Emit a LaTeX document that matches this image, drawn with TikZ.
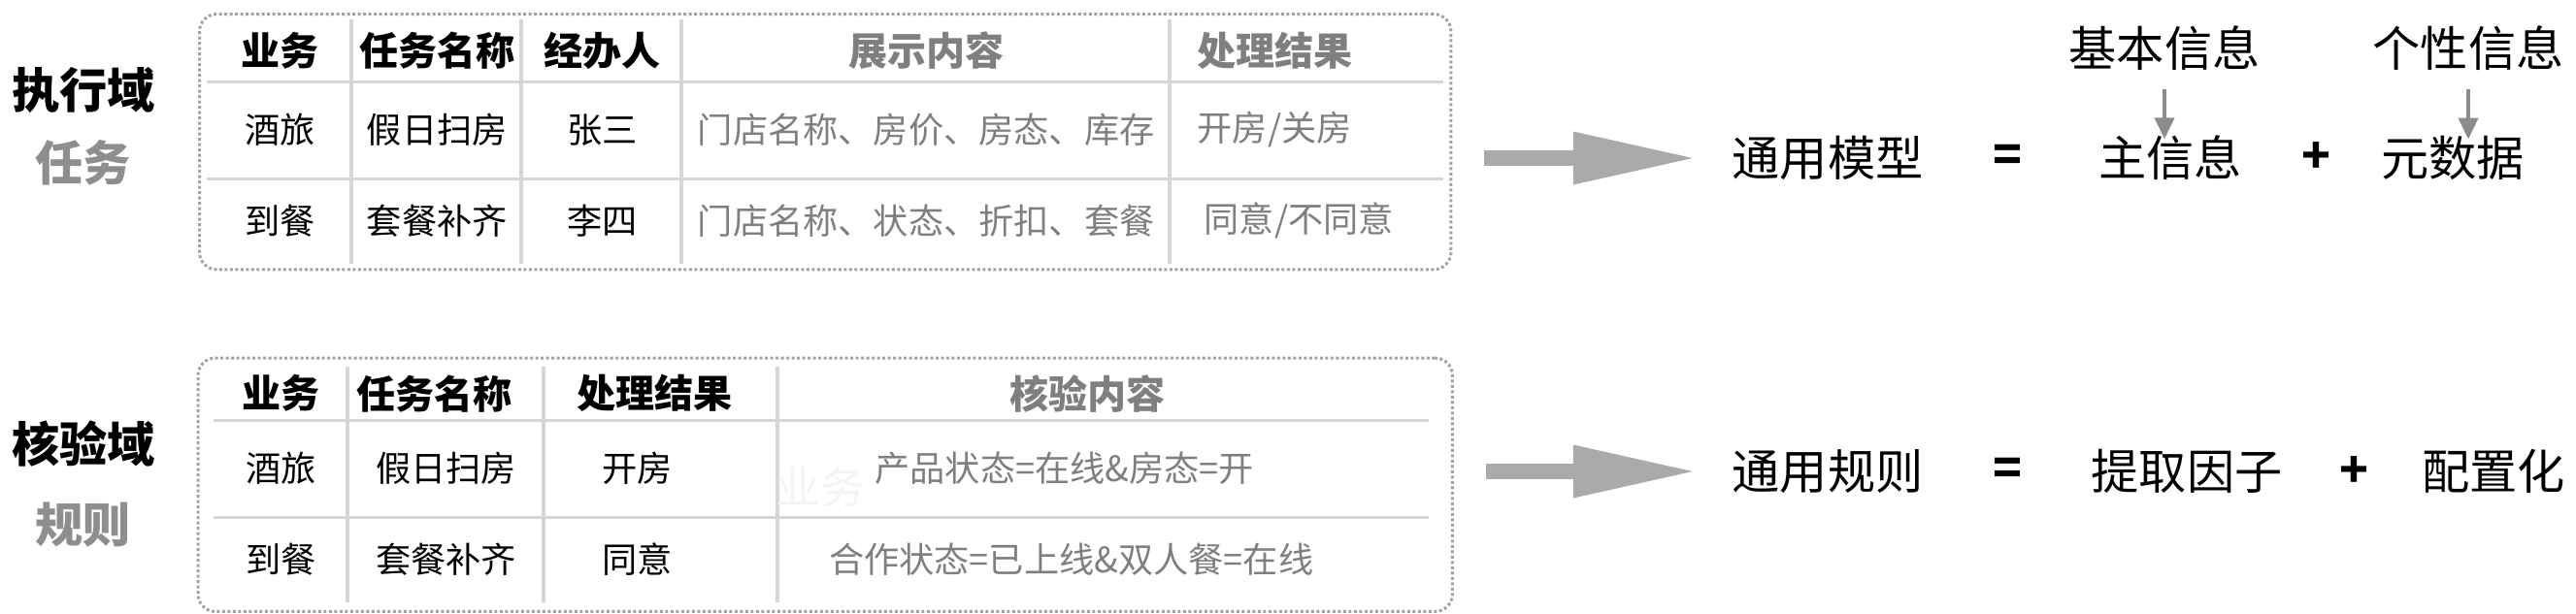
\documentclass[tikz,border=0pt]{standalone}
\usepackage{fontspec}
\setmainfont{Noto Sans CJK SC}
\usetikzlibrary{matrix,positioning,fit,arrows.meta}
\definecolor{txtgray}{HTML}{7F7F7F}
\definecolor{subgray}{HTML}{8E8E8E}
\definecolor{rulegray}{HTML}{D6D6D6}
\definecolor{boxgray}{HTML}{A3A3A3}
\definecolor{arrowgray}{HTML}{AAAAAA}
\definecolor{minorgray}{HTML}{8C8C8C}
\definecolor{ghostgray}{HTML}{F4F4F4}
\newcommand{\tabhead}{\fontsize{11.4pt}{13pt}\selectfont\bfseries}
\newcommand{\tabbody}{\fontsize{10.3pt}{12pt}\selectfont}
\newcommand{\domfont}{\fontsize{14pt}{16pt}\selectfont\bfseries}
\newcommand{\eqfont}{\fontsize{14pt}{16pt}\selectfont}

\begin{document}
\begin{tikzpicture}[
		domtable/.style={matrix of nodes,row sep=0pt,column sep=0pt,inner sep=0pt,
			nodes={anchor=center,inner sep=0pt,align=center,font=\tabbody}},
		tabrule/.style={draw=rulegray,line width=0.035cm},
		dombox/.style={draw=boxgray,line width=0.03cm,dash pattern=on 0.03cm off 0.025cm,rounded corners=0.18cm},
		domlabel/.style={inner sep=0pt,font=\domfont},
		domsub/.style={inner sep=0pt,font=\domfont,text=subgray},
		eqtext/.style={inner sep=0pt,font=\eqfont},
		eqsign/.style={inner sep=0pt,font=\domfont},
		bigarrow/.style={draw=arrowgray,line width=0.16cm,-{Triangle[length=1.28cm,width=0.50cm]},shorten <=0.33cm,shorten >=0.35cm},
		minorarrow/.style={draw=minorgray,line width=0.04cm,-{Triangle[length=0.22cm,width=0.2cm]},shorten <=0.18cm,shorten >=-0.04cm}]
		\useasboundingbox (0,0) rectangle (26.54,-6.32);

		\matrix (exec) [domtable,matrix anchor=north west,
			column 1/.style={nodes={text width=1.49cm}},
			column 2/.style={nodes={text width=1.75cm}},
			column 3/.style={nodes={text width=1.65cm}},
			column 4/.style={nodes={text width=5.03cm,text=txtgray}},
			column 5/.style={nodes={text width=2.25cm,inner xsep=0.28cm,align=left,text=txtgray}},
			row 1/.style={nodes={minimum height=0.63cm,font=\tabhead}},
			row 2/.style={nodes={minimum height=1.00cm}},
			row 3/.style={nodes={minimum height=0.88cm}}] at (2.13,-0.20)
		{
			业务 & 任务名称 & 经办人 & 展示内容 & 处理结果 \\
			酒旅 & 假日扫房 & 张三 & 门店名称、房价、房态、库存 & 开房/关房 \\
			到餐 & 套餐补齐 & 李四 & 门店名称、状态、折扣、套餐 & \hspace*{0.07cm}同意/不同意 \\
		};
		\foreach \c in {2,...,5}
			\draw[tabrule] (exec-1-\c.north west) -- (exec-3-\c.south west);
		\foreach \r in {1,2}
			\draw[tabrule] (exec-\r-1.south west) -- (exec-\r-5.south east);
		\node[dombox,fit=(exec),inner xsep=0.075cm,inner ysep=0.055cm] (execbox) {};

		\matrix (check) [domtable,matrix anchor=north west,
			column 1/.style={nodes={text width=1.38cm}},
			column 2/.style={nodes={text width=2.02cm}},
			column 3/.style={nodes={text width=2.41cm}},
			column 4/.style={nodes={text width=6.70cm,text=txtgray}},
			row 1/.style={nodes={minimum height=0.54cm,font=\tabhead}},
			row 2/.style={nodes={minimum height=1.00cm}},
			row 3/.style={nodes={minimum height=0.88cm}}] at (2.20,-3.78)
		{
			业务 & \hspace*{-0.24cm}任务名称 & \hspace*{-0.14cm}处理结果 & \hspace*{-0.32cm}核验内容 \\
			酒旅 & 假日扫房 & \hspace*{-0.5cm}开房 & \hspace*{-0.8cm}产品状态=在线\&房态=开 \\
			到餐 & 套餐补齐 & \hspace*{-0.5cm}同意 & \hspace*{-0.66cm}合作状态=已上线\&双人餐=在线 \\
		};
		\foreach \c in {2,...,4}
			\draw[tabrule] (check-1-\c.north west) -- (check-3-\c.south west);
		\foreach \r in {1,2}
			\draw[tabrule] (check-\r-1.south west) -- (check-\r-4.south east);
		\node[text=ghostgray,inner sep=0pt,font=\fontsize{13pt}{15pt}\selectfont] (ghost) at (8.45,-5.02) {业务};
		\node[dombox,fit={(check.north -| execbox.west) (check.south -| execbox.east)},inner xsep=0pt,inner ysep=0.09cm] (checkbox) {};

		\node[domlabel] (execdom) at (0.86,-0.93) {执行域};
		\node[domsub,below=0.26cm of execdom] (execsub) {任务};
		\node[domlabel] (checkdom) at (0.86,-4.57) {核验域};
		\node[domsub,below=0.36cm of checkdom] (checksub) {规则};

		\node[eqtext] (model) at (18.83,-1.63) {通用模型};
		\node[eqsign] (eqa) at (20.68,-1.63) {=};
		\node[eqtext] (main) at (22.36,-1.63) {主信息};
		\node[eqsign] (plusa) at (23.86,-1.63) {+};
		\node[eqtext] (meta) at (25.27,-1.63) {元数据};
		\node[eqtext] (basic) at (22.30,-0.50) {基本信息};
		\node[eqtext] (personal) at (25.43,-0.50) {个性信息};
		\node[eqtext] (rule) at (18.83,-4.86) {通用规则};
		\node[eqsign] (eqb) at (20.68,-4.86) {=};
		\node[eqtext] (factor) at (22.53,-4.86) {提取因子};
		\node[eqsign] (plusb) at (24.25,-4.86) {+};
		\node[eqtext] (config) at (25.69,-4.86) {配置化};

		\draw[bigarrow] (execbox.east |- model.west) -- (model.west);
		\draw[bigarrow] (checkbox.east |- rule.west) -- (rule.west);
		\draw[minorarrow] (basic.south) -- (basic.south |- main.north);
		\draw[minorarrow] (personal.south) -- (personal.south |- meta.north);
\end{tikzpicture}
\end{document}
